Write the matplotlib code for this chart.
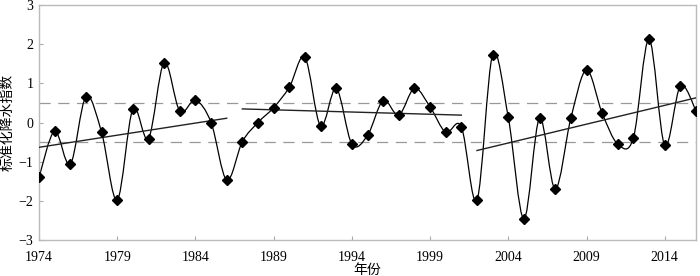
import numpy as np
import matplotlib
matplotlib.use("Agg")
import matplotlib.pyplot as plt
from matplotlib.path import Path
from matplotlib.patches import PathPatch

plt.rcParams['font.family'] = ['Liberation Serif', 'Noto Sans CJK SC']
plt.rcParams['axes.unicode_minus'] = True

years = list(range(1974, 2017))
spi = [-1.40, -0.22, -1.07, 0.66, -0.25, -1.98, 0.34, -0.41, 1.53, 0.29,
       0.57, 0.00, -1.47, -0.49, 0.00, 0.38, 0.90, 1.66, -0.09, 0.87,
       -0.55, -0.33, 0.56, 0.19, 0.87, 0.40, -0.25, -0.11, -1.98, 1.73,
       0.13, -2.46, 0.11, -1.70, 0.11, 1.34, 0.24, -0.55, -0.39, 2.13,
       -0.58, 0.93, 0.30]
periods = [(1974, 1986), (1987, 2001), (2002, 2016)]
xticks = [1974, 1979, 1984, 1989, 1994, 1999, 2004, 2009, 2014]
yticks = [-3, -2, -1, 0, 1, 2, 3]


def smooth_path(x, y, k=1 / 6):
    # cubic bezier through the points (catmull-rom style control points)
    x = np.asarray(x, float)
    y = np.asarray(y, float)
    n = len(x)
    verts = [(x[0], y[0])]
    codes = [Path.MOVETO]
    for i in range(n - 1):
        i0 = max(i - 1, 0)
        i3 = min(i + 2, n - 1)
        c1 = (x[i] + (x[i + 1] - x[i0]) * k, y[i] + (y[i + 1] - y[i0]) * k)
        c2 = (x[i + 1] - (x[i3] - x[i]) * k, y[i + 1] - (y[i3] - y[i]) * k)
        verts += [c1, c2, (x[i + 1], y[i + 1])]
        codes += [Path.CURVE4] * 3
    return Path(verts, codes)


fig = plt.figure(figsize=(7.0, 2.76), dpi=100)
ax = fig.add_axes([39 / 700, 1 - 240 / 276, 657 / 700, 235 / 276])

# +-0.5 reference lines
for lv in (-0.5, 0.5):
    ax.axhline(lv, color='#999999', lw=0.9, ls=(0, (9, 6)), zorder=1)

ax.add_patch(PathPatch(smooth_path(years, spi), fc='none', ec='black',
                       lw=0.9, zorder=2))
ax.plot(years, spi, ls='none', marker='D', ms=5.5, color='black', zorder=4)

# linear trend for each period
yr = np.array(years)
vals = np.array(spi)
for a, b in periods:
    m = (yr >= a) & (yr <= b)
    p = np.polyfit(yr[m], vals[m], 1)
    xs = np.array([a, b])
    ax.plot(xs, np.polyval(p, xs), color='#222222', lw=1.0, zorder=3)

ax.set_xlim(1974, 2016)
ax.set_ylim(-3, 3)
ax.set_xticks(xticks)
ax.set_yticks(yticks)
ax.tick_params(direction='in', length=3, color='#aaaaaa', labelsize=10)
ax.tick_params(axis='x', pad=8)
ax.tick_params(axis='y', pad=4)
for s in ax.spines.values():
    s.set_color('#bbbbbb')
    s.set_linewidth(1.0)

ax.set_xlabel('年份', fontsize=10, family=['Noto Sans CJK SC'], labelpad=-1)
ax.set_ylabel('标准化降水指数', fontsize=10, family=['Noto Sans CJK SC'],
              labelpad=3)

fig.savefig('out.png', dpi=100)
